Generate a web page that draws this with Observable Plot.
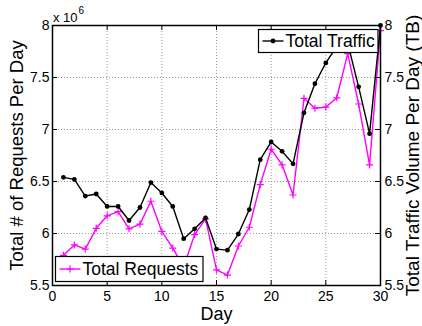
<!DOCTYPE html>
<html><head><meta charset="utf-8">
<script src="https://cdn.jsdelivr.net/npm/d3@7"></script>
<script src="https://cdn.jsdelivr.net/npm/@observablehq/plot@0.6"></script>
<style>
body{margin:0;background:#fff}
#chart{width:422px;height:326px;overflow:hidden}
</style>
</head><body><div id="chart"></div>
<script>
const days = [1,2,3,4,5,6,7,8,9,10,11,12,13,14,15,16,17,18,19,20,21,22,23,24,25,26,27,28,29,30];
// Total Traffic Volume Per Day (TB) - right axis
const traffic = [6.54,6.52,6.36,6.38,6.26,6.26,6.125,6.25,6.49,6.39,6.26,5.95,6.045,6.15,5.85,5.84,5.995,6.23,6.71,6.88,6.79,6.67,7.16,7.44,7.64,7.80,7.83,7.41,6.96,8.0];
// Total # of Requests Per Day (x 10^6) - left axis
const requests = [5.79,5.89,5.85,6.05,6.17,6.21,6.045,6.09,6.31,6.02,5.86,5.68,5.99,6.14,5.65,5.60,5.88,6.06,6.47,6.81,6.66,6.37,7.30,7.205,7.215,7.305,7.73,7.245,6.66,7.95];
const xTicks = [0,5,10,15,20,25,30];
const yTicks = [5.5,6,6.5,7,7.5,8];
const seriesNames = ["Total Traffic","Total Requests"];
const labels = {x:"Day", yLeft:"Total # of Requests Per Day", yRight:"Total Traffic Volume Per Day (TB)", exponent:"6"};

const W=422,H=326,mL=52,mR=42,mT=25,mB=41;
const pw=W-mL-mR, ph=H-mT-mB;
const font="'Liberation Sans', Arial, Helvetica, sans-serif";
const data = days.map((d,i)=>({day:d, traffic:traffic[i], requests:requests[i]}));
const plusSymbol = {draw(ctx,size){const r=Math.sqrt(size/Math.PI)*1.6; ctx.moveTo(-r,0);ctx.lineTo(r,0);ctx.moveTo(0,-r);ctx.lineTo(0,r);}};
const grid = {stroke:"#9a9a9a", strokeOpacity:1, strokeDasharray:"1,2", strokeWidth:1};
const xGrid = xTicks.slice(1,-1), yGrid = yTicks.slice(1,-1);

const plot = Plot.plot({
  width:W, height:H, marginLeft:mL, marginRight:mR, marginTop:mT, marginBottom:mB,
  style:{fontFamily:font, fontSize:"14px", color:"#000", background:"#fff"},
  x:{domain:[0,30]}, y:{domain:[5.5,8]},
  marks:[
    Plot.gridX(xGrid, grid),
    Plot.gridY(yGrid, grid),
    Plot.line(data,{x:"day",y:"requests",stroke:"#ff00ff",strokeWidth:1.4}),
    Plot.dot(data,{x:"day",y:"requests",symbol:plusSymbol,r:2.2,stroke:"#ff00ff",fill:"none",strokeWidth:1.2}),
    Plot.line(data,{x:"day",y:"traffic",stroke:"#000",strokeWidth:1.4}),
    Plot.dot(data,{x:"day",y:"traffic",r:2.4,fill:"#000",stroke:"none"}),
    Plot.frame({stroke:"#000",strokeWidth:1.5}),
    Plot.tickY(yTicks,{y:d=>d,insetRight:pw-5,stroke:"#000"}),
    Plot.tickY(yTicks,{y:d=>d,insetLeft:pw-5,stroke:"#000"}),
    Plot.tickX(xTicks,{x:d=>d,insetTop:ph-5,stroke:"#000"}),
    Plot.tickX(xTicks,{x:d=>d,insetBottom:ph-5,stroke:"#000"}),
    Plot.axisX(xTicks,{tickSize:0,tickPadding:6,label:null,fontSize:14}),
    Plot.axisY(yTicks,{anchor:"left",tickSize:0,tickPadding:3,label:null,fontSize:14,tickFormat:d=>String(d)}),
    Plot.axisY(yTicks,{anchor:"right",tickSize:0,tickPadding:4,label:null,fontSize:14,tickFormat:d=>String(d)}),
    Plot.text([labels.x],{frameAnchor:"bottom",textAnchor:"middle",lineAnchor:"middle",dy:29,fontSize:18}),
    Plot.text([labels.yLeft],{frameAnchor:"left",textAnchor:"middle",lineAnchor:"middle",rotate:-90,dx:-35,fontSize:18.5}),
    Plot.text([labels.yRight],{frameAnchor:"right",textAnchor:"middle",lineAnchor:"middle",rotate:-90,dx:32,fontSize:19})
  ]
});
document.getElementById("chart").appendChild(plot);

// overlays: exponent label and legends
const svg = d3.select(plot);
const ex = svg.append("text").attr("x",53).attr("y",22).attr("text-anchor","start").attr("font-family",font).attr("font-size",13).attr("fill","#000");
ex.append("tspan").text("x 10");
ex.append("tspan").attr("font-size",10).attr("dy",-8).attr("dx",1).text(labels.exponent);

function legend(x0,y0,w,h,name,kind,color){
  const g = svg.append("g");
  g.append("rect").attr("x",x0).attr("y",y0).attr("width",w).attr("height",h).attr("fill","#fff");
  const cy = y0+h/2;
  g.append("line").attr("x1",x0+4).attr("x2",x0+25).attr("y1",cy).attr("y2",cy).attr("stroke",color).attr("stroke-width",1.4);
  const mx = x0+14.5;
  if(kind==="dot") g.append("circle").attr("cx",mx).attr("cy",cy).attr("r",2.4).attr("fill",color);
  else g.append("path").attr("d",`M${mx-3.5},${cy}H${mx+3.5}M${mx},${cy-3.5}V${cy+3.5}`).attr("stroke",color).attr("stroke-width",1.2);
  g.append("text").attr("x",x0+27).attr("y",cy+6).attr("text-anchor","start").attr("font-family",font).attr("font-size",17.5).attr("fill","#000").text(name);
  g.append("rect").attr("x",x0).attr("y",y0).attr("width",w).attr("height",h).attr("fill","none").attr("stroke","#000").attr("stroke-width",1.2);
}
legend(258.5,29.5,119.5,23,seriesNames[0],"dot","#000");
legend(55.5,256.5,147.5,25,seriesNames[1],"plus","#ff00ff");
</script>
</body></html>
